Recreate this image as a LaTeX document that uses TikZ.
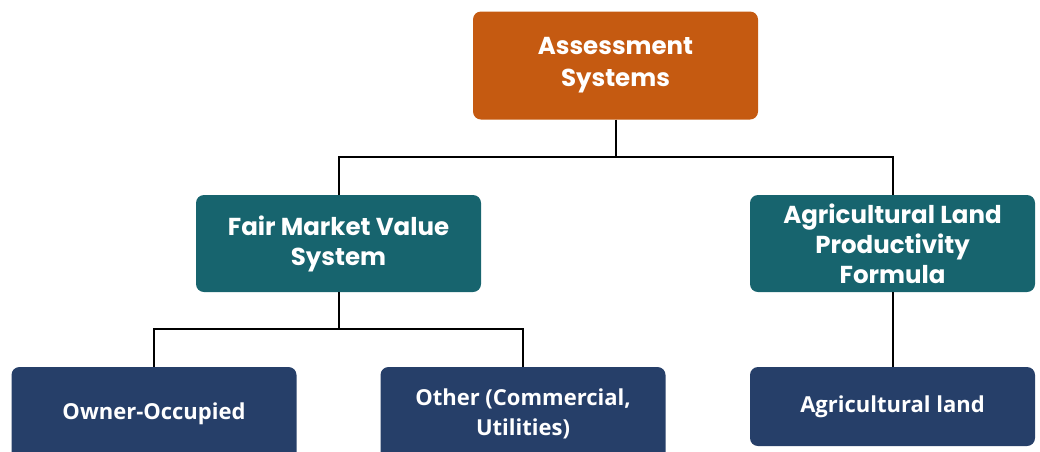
\documentclass[tikz,border=0pt]{standalone}
\usepackage{fontspec}
\setmainfont{Open Sans}
\newfontfamily\headfont{Poppins}
\usepackage{tikz}
\usetikzlibrary{arrows.meta}

\definecolor{rustorange}{HTML}{C55A11}
\definecolor{deepteal}{HTML}{17646E}
\definecolor{darknavy}{HTML}{263F69}

\begin{document}
\begin{tikzpicture}[x=1pt, y=1pt,
	topbox/.style={fill=rustorange, draw=none, rounded corners=8pt, minimum width=285pt, minimum height=108pt, align=center, text=white, font=\headfont\bfseries\fontsize{24.5}{32}\selectfont},
	midbox/.style={fill=deepteal, draw=none, rounded corners=8pt, minimum width=285pt, minimum height=97pt, align=center, text=white, font=\headfont\bfseries\fontsize{24.5}{30}\selectfont},
	leafbox/.style={fill=darknavy, draw=none, rounded corners=8pt, minimum width=285pt, align=center, text=white, font=\bfseries\fontsize{22}{30}\selectfont},
	link/.style={draw=black, line width=2pt}]
	\useasboundingbox (0, 0) rectangle (1040, -451);
	\node [topbox] (top) at (615.5, -65.5) {Assessment\\Systems};
	\node [midbox] (fmv) at (338.5, -243.5) {Fair Market Value\\System};
	\node [midbox] (alp) at (892.5, -243.5) {Agricultural Land\\Productivity\\Formula};
	\node [leafbox, minimum height=94pt] (owner) at (154, -414) {Owner-Occupied};
	\node [leafbox, minimum height=94pt] (other) at (523, -414) {Other (Commercial,\\Utilities)};
	\node [leafbox, minimum height=79pt] (agri) at (892.5, -406.5) {Agricultural land};
	\coordinate (j1) at (615.5, -157);
	\coordinate (j2) at (338.5, -329);
	\draw [link] (top.south) to (j1);
	\draw [link] (j1) -| (fmv.north);
	\draw [link] (j1) -| (alp.north);
	\draw [link] (fmv.south) to (j2);
	\draw [link] (j2) -| (owner.north);
	\draw [link] (j2) -| (other.north);
	\draw [link] (alp.south) to (agri.north);
\end{tikzpicture}
\end{document}
